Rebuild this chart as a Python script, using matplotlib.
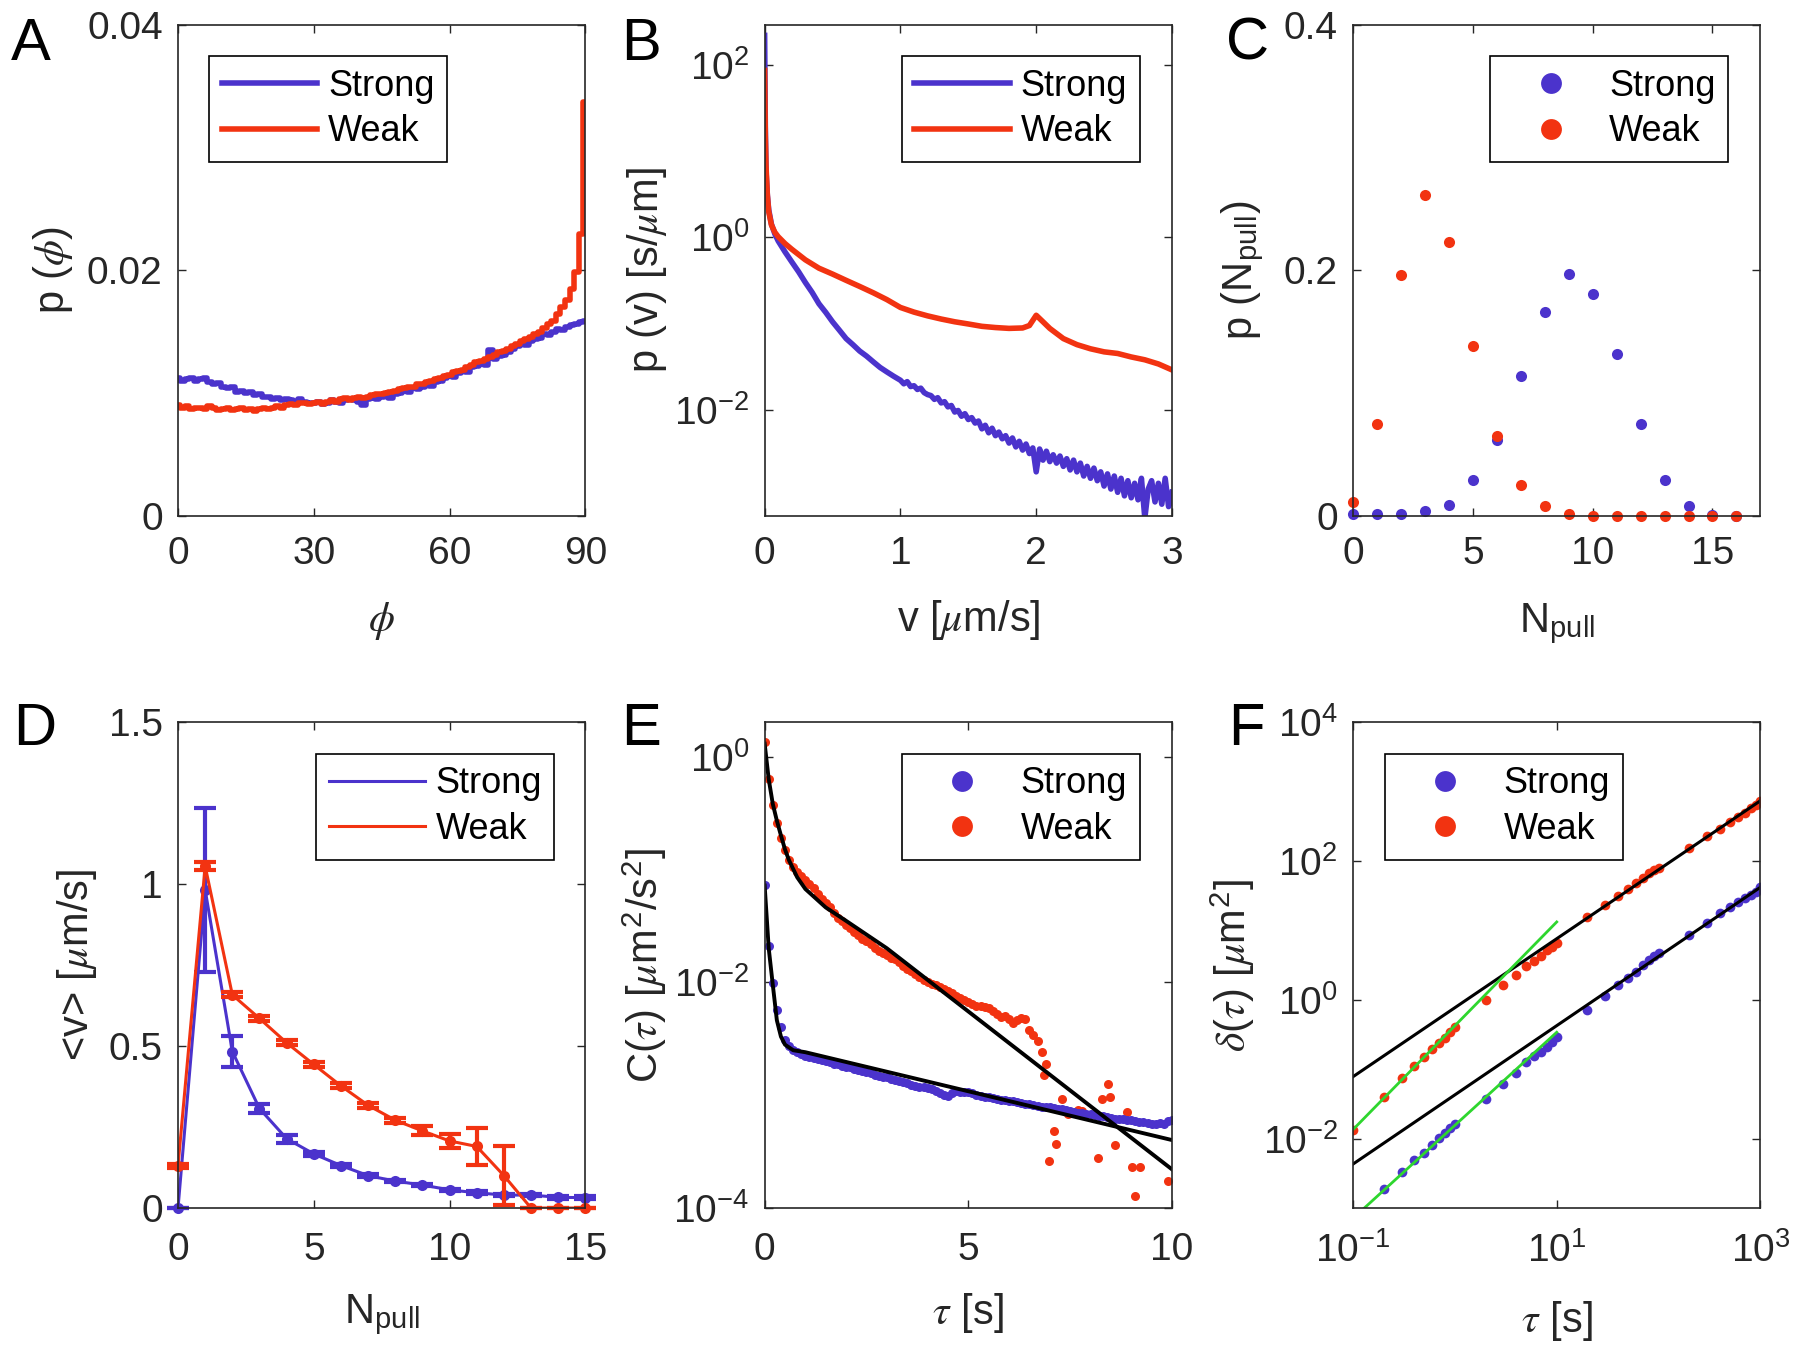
import numpy as np
import matplotlib.pyplot as plt
from matplotlib.ticker import NullLocator

plt.rcParams['font.family'] = ['Liberation Sans', 'DejaVu Sans']
plt.rcParams['mathtext.fontset'] = 'custom'
plt.rcParams['mathtext.rm'] = 'Liberation Sans'
plt.rcParams['mathtext.it'] = 'STIXGeneral:italic'
plt.rcParams['mathtext.bf'] = 'Liberation Sans:bold'
plt.rcParams['axes.unicode_minus'] = False

BLUE = '#4b33cc'
RED = '#f23311'
GREEN = '#2ed62e'
DARK = '#262626'

# ---- panel A: p(phi) ----
phi = np.arange(0, 91)
p_phi_strong = [0.0112, 0.0110, 0.0111, 0.0112, 0.0110, 0.0111, 0.0112, 0.0109, 0.0107, 0.0108,
                0.0105, 0.0104, 0.0105, 0.0101, 0.0102, 0.0100, 0.0101, 0.0098, 0.0099, 0.0097,
                0.0097, 0.0095, 0.0096, 0.0094, 0.0095, 0.0094, 0.0093, 0.0095, 0.0093, 0.0092,
                0.0092, 0.0093, 0.0091, 0.0092, 0.0094, 0.0093, 0.0092, 0.0094, 0.0095, 0.0094,
                0.0093, 0.0090, 0.0095, 0.0096, 0.0095, 0.0097, 0.0098, 0.0096, 0.0099, 0.0100,
                0.0102, 0.0101, 0.0104, 0.0103, 0.0105, 0.0107, 0.0106, 0.0109, 0.0110, 0.0112,
                0.0114, 0.0113, 0.0116, 0.0118, 0.0117, 0.0121, 0.0122, 0.0124, 0.0123, 0.0135,
                0.0128, 0.0130, 0.0131, 0.0133, 0.0136, 0.0138, 0.0140, 0.0139, 0.0142, 0.0144,
                0.0145, 0.0148, 0.0147, 0.0150, 0.0152, 0.0151, 0.0154, 0.0155, 0.0156, 0.0158,
                0.0159]
p_phi_weak = [0.0090, 0.0088, 0.0089, 0.0087, 0.0088, 0.0088, 0.0087, 0.0089, 0.0088, 0.0086,
              0.0087, 0.0088, 0.0086, 0.0087, 0.0088, 0.0086, 0.0087, 0.0085, 0.0087, 0.0088,
              0.0087, 0.0088, 0.0089, 0.0088, 0.0090, 0.0091, 0.0090, 0.0092, 0.0092, 0.0091,
              0.0092, 0.0093, 0.0091, 0.0093, 0.0094, 0.0093, 0.0095, 0.0096, 0.0094, 0.0096,
              0.0097, 0.0096, 0.0097, 0.0098, 0.0099, 0.0099, 0.0100, 0.0101, 0.0102, 0.0103,
              0.0104, 0.0105, 0.0105, 0.0107, 0.0107, 0.0109, 0.0110, 0.0111, 0.0112, 0.0114,
              0.0115, 0.0117, 0.0118, 0.0119, 0.0121, 0.0123, 0.0125, 0.0126, 0.0128, 0.0129,
              0.0131, 0.0133, 0.0134, 0.0136, 0.0138, 0.0140, 0.0142, 0.0144, 0.0146, 0.0148,
              0.0150, 0.0153, 0.0156, 0.0159, 0.0164, 0.0170, 0.0176, 0.0185, 0.0199, 0.0230,
              0.0337]

# ---- panel B: p(v) ----
v_strong = [0, 0.005, 0.01, 0.02, 0.03, 0.05, 0.075, 0.1, 0.15, 0.2, 0.25, 0.3, 0.35, 0.4,
            0.45, 0.5, 0.55, 0.6, 0.65, 0.7, 0.75, 0.8, 0.85, 0.9, 0.95] + \
           list(np.round(np.arange(1.0, 3.001, 0.025), 3))
pv_strong = [222, 20, 6, 3.1, 2.1, 1.43, 1.1, 0.91, 0.68, 0.52, 0.40, 0.30, 0.23, 0.17,
             0.135, 0.105, 0.084, 0.067, 0.057, 0.048, 0.042, 0.036, 0.031, 0.0275, 0.0245,
             0.0220, 0.0200, 0.0212, 0.0186, 0.0190, 0.0172, 0.0178, 0.0158, 0.0150, 0.0146,
             0.0132, 0.0138, 0.0120, 0.0124, 0.0108, 0.0112, 0.0094, 0.0098, 0.0084, 0.0090,
             0.0077, 0.0081, 0.0070, 0.0074, 0.0060, 0.0066, 0.0054, 0.0061, 0.0050, 0.0055,
             0.0046, 0.0050, 0.0041, 0.0047, 0.0037, 0.0043, 0.0034, 0.0040, 0.0031, 0.0036,
             0.0019, 0.0035, 0.0026, 0.0033, 0.0025, 0.0030, 0.0024, 0.0029, 0.0022, 0.0027,
             0.0020, 0.0026, 0.0019, 0.0024, 0.0017, 0.0022, 0.0016, 0.0021, 0.0015, 0.0019,
             0.0013, 0.0018, 0.0012, 0.0017, 0.0011, 0.0016, 0.0010, 0.0015, 0.00095, 0.0014,
             0.00090, 0.0016, 0.00055, 0.0012, 0.0015, 0.00085, 0.0014, 0.00080, 0.0016,
             0.00075, 0.0011]
v_weak = [0, 0.005, 0.01, 0.02, 0.03, 0.05, 0.075, 0.1, 0.15, 0.2, 0.3, 0.4, 0.5, 0.6, 0.7,
          0.8, 0.9, 1.0, 1.1, 1.2, 1.3, 1.4, 1.5, 1.6, 1.7, 1.8, 1.9, 1.95, 2.0, 2.05, 2.1,
          2.2, 2.3, 2.4, 2.5, 2.6, 2.7, 2.8, 2.9, 3.0]
pv_weak = [87, 15, 6.8, 3.1, 2.0, 1.4, 1.15, 1.02, 0.85, 0.73, 0.55, 0.44, 0.376, 0.318,
           0.27, 0.228, 0.19, 0.154, 0.136, 0.123, 0.113, 0.105, 0.099, 0.093, 0.090, 0.088,
           0.089, 0.095, 0.125, 0.105, 0.088, 0.067, 0.057, 0.051, 0.047, 0.045, 0.041,
           0.038, 0.034, 0.029]

# ---- panel C: p(N_pull) ----
n_pull = np.arange(0, 17)
pn_strong = [0.001, 0.001, 0.001, 0.0034, 0.009, 0.029, 0.062, 0.114, 0.166, 0.197, 0.181,
             0.132, 0.0746, 0.029, 0.008, 0.0007, 0.0]
pn_weak = [0.0112, 0.0746, 0.196, 0.261, 0.223, 0.138, 0.065, 0.025, 0.0075, 0.001, 0.0,
           0.0, 0.0, 0.0, 0.0, 0.0, 0.0]

# ---- panel D: <v> vs N_pull ----
n_d = np.arange(0, 16)
vm_strong = [0.0, 0.982, 0.483, 0.307, 0.214, 0.167, 0.131, 0.100, 0.083, 0.071, 0.056,
             0.047, 0.040, 0.040, 0.033, 0.032]
ve_strong = [0.0, 0.252, 0.048, 0.015, 0.012, 0.006, 0.005, 0.005, 0.004, 0.004, 0.004,
             0.004, 0.004, 0.004, 0.004, 0.004]
vm_weak = [0.131, 1.055, 0.658, 0.585, 0.510, 0.443, 0.377, 0.317, 0.271, 0.238, 0.207,
           0.190, 0.100, 0.0, 0.0, 0.0]
ve_weak = [0.006, 0.012, 0.008, 0.008, 0.008, 0.008, 0.008, 0.008, 0.008, 0.014, 0.022,
           0.057, 0.090, 0.0, 0.0, 0.0]

# ---- panel E: C(tau) ----
tau_strong = np.round(np.arange(0, 10.01, 0.1), 1)
c_strong = [0.072, 0.021, 0.0098, 0.0057, 0.0040, 0.0031, 0.0027, 0.0025, 0.00240, 0.00232,
            0.00224, 0.00218, 0.00214, 0.00210, 0.00206, 0.00200, 0.00196, 0.00190, 0.00187, 0.00182,
            0.00179, 0.00176, 0.00171, 0.00168, 0.00163, 0.00160, 0.00156, 0.00151, 0.00148, 0.00146,
            0.00144, 0.00140, 0.00137, 0.00133, 0.00130, 0.00127, 0.00124, 0.00121, 0.00119, 0.00117,
            0.00116, 0.00113, 0.00108, 0.00104, 0.00100, 0.00098, 0.00104, 0.00108, 0.00107, 0.00106,
            0.00106, 0.00104, 0.00101, 0.00099, 0.00097, 0.00096, 0.00094, 0.00092, 0.00091, 0.00090,
            0.00089, 0.00088, 0.00087, 0.00085, 0.00084, 0.00083, 0.00082, 0.00080, 0.00079, 0.00078,
            0.00078, 0.00077, 0.00076, 0.00075, 0.00074, 0.00073, 0.00071, 0.00070, 0.00069, 0.00068,
            0.00068, 0.00067, 0.00066, 0.00065, 0.00064, 0.00063, 0.00062, 0.00061, 0.00061, 0.00060,
            0.00060, 0.00059, 0.00058, 0.00058, 0.00057, 0.00056, 0.00056, 0.00057, 0.00056, 0.00059,
            0.00060]
tau_weak = list(np.round(np.arange(0, 6.95, 0.1), 1)) + \
    [6.87, 6.99, 7.1, 7.15, 7.29, 7.45, 7.7, 7.8, 8.18, 8.28, 8.42, 8.47, 8.59, 8.89,
     9.01, 9.08, 9.22, 9.91]
c_weak = [1.34, 0.63, 0.37, 0.26, 0.19, 0.150, 0.122, 0.105, 0.095, 0.087,
          0.080, 0.074, 0.068, 0.061, 0.055, 0.050, 0.046, 0.041, 0.037, 0.035,
          0.032, 0.030, 0.028, 0.026, 0.024, 0.023, 0.022, 0.020, 0.019, 0.018,
          0.0175, 0.0165, 0.016, 0.015, 0.0140, 0.0132, 0.0126, 0.0118, 0.0112, 0.0105,
          0.0100, 0.0097, 0.0094, 0.0091, 0.0087, 0.0084, 0.0080, 0.0076, 0.0072, 0.0069,
          0.0067, 0.0064, 0.0062, 0.0061, 0.0060, 0.0059, 0.0056, 0.0052, 0.0049, 0.0050,
          0.0047, 0.0044, 0.0046, 0.0048, 0.0047, 0.0038, 0.0034, 0.0030, 0.0024, 0.0019,
          0.0015, 0.00026, 0.00048, 0.00037, 0.00092, 0.00068, 0.00074, 0.00072, 0.00028,
          0.00092, 0.00126, 0.00096, 0.00036, 0.00071, 0.00023, 0.000127, 0.00023, 0.000174]
fit_t_weak = [0, 0.1, 0.2, 0.3, 0.4, 0.5, 0.6, 0.8, 1.0, 1.5, 2, 3, 10]
fit_c_weak = [1.3, 0.63, 0.38, 0.27, 0.20, 0.15, 0.12, 0.085, 0.067, 0.046, 0.035, 0.020, 2.2e-4]
fit_t_strong = [0, 0.1, 0.2, 0.3, 0.4, 0.5, 0.7, 1.0, 10]
fit_c_strong = [0.072, 0.020, 0.0095, 0.0046, 0.0033, 0.0028, 0.0025, 0.0024, 0.0004]

# ---- panel F: delta(tau) ----
tau_f = [0.1, 0.2, 0.3, 0.4, 0.5, 0.6, 0.7, 0.8, 0.9, 1, 2, 3, 4, 5, 6, 7, 8, 9, 10,
         20, 30, 40, 50, 60, 70, 80, 90, 100, 200, 300, 400, 500, 600, 700, 800, 900, 1000]
d_weak = [0.0135, 0.0396, 0.0757, 0.111, 0.151, 0.192, 0.238, 0.283, 0.341, 0.405,
          1.0, 1.65, 2.30, 3.06, 3.64, 4.2, 5.2, 5.75, 6.6,
          15.3, 23.5, 31.3, 38.8, 48.3, 57, 66, 74, 79.4,
          152, 228, 290, 360, 427, 495, 570, 640, 720]
d_strong = [0.0006, 0.00187, 0.0033, 0.00495, 0.0063, 0.0082, 0.0101, 0.0121, 0.0141, 0.0161,
            0.0369, 0.061, 0.0873, 0.125, 0.155, 0.179, 0.207, 0.245, 0.287,
            0.70, 1.15, 1.61, 2.05, 2.54, 3.15, 3.74, 4.2, 4.7,
            8.6, 12.7, 17.6, 21.8, 25.2, 29.1, 32.7, 36.1, 41.7]
fitlong_t = [0.1, 1000]
fitlong_weak = [0.078, 735]
fitlong_strong = [0.0043, 41.7]
fitshort_t = [0.1, 10]
fitshort_weak = [0.0135, 13.2]
fitshort_strong = [0.00071, 0.34]

# tick labels
ticks_a_x = [0, 30, 60, 90]
ticks_a_y = [0, 0.02, 0.04]
labels_a_y = ['0', '0.02', '0.04']
ticks_b_x = [0, 1, 2, 3]
ticks_c_x = [0, 5, 10, 15]
ticks_c_y = [0, 0.2, 0.4]
labels_c_y = ['0', '0.2', '0.4']
ticks_d_x = [0, 5, 10, 15]
ticks_d_y = [0, 0.5, 1, 1.5]
labels_d_y = ['0', '0.5', '1', '1.5']
ticks_e_x = [0, 5, 10]

TFS = 28   # tick labels
LFS = 30   # axis labels
GFS = 26   # legend
fig = plt.figure(figsize=(18, 13.59), dpi=100)
lefts = [0.0989, 0.4248, 0.7517]
W = 0.2263
axes = []
for row, (b, h) in enumerate([(0.6206, 0.361), (0.1111, 0.3576)]):
    for l in lefts:
        ax = fig.add_axes([l, b, W, h])
        for s in ax.spines.values():
            s.set_color(DARK)
            s.set_linewidth(1.2)
        ax.tick_params(direction='in', top=True, right=True, length=6, width=1,
                       colors=DARK, labelsize=TFS)
        ax.tick_params(axis='x', pad=15 if row == 0 else 17)
        ax.tick_params(axis='y', pad=11)
        axes.append(ax)
axA, axB, axC, axD, axE, axF = axes


def legend(ax, anchor, marker=False, handles=None, labels=None):
    if handles is None:
        handles, labels = ax.get_legend_handles_labels()
    leg = ax.legend(handles, labels, loc='upper right', bbox_to_anchor=anchor, fontsize=GFS,
                    frameon=True, fancybox=False, edgecolor='black', framealpha=1,
                    borderpad=0.35, labelspacing=0.3, handlelength=2.65, handletextpad=0.3,
                    borderaxespad=0, numpoints=1)
    leg.get_frame().set_linewidth(1.2)
    if marker:
        for hd in leg.legend_handles:
            hd.set_markersize(15)
    return leg


# A
axA.plot(phi, p_phi_strong, color=BLUE, lw=4, drawstyle='steps-mid', label='Strong')
axA.plot(phi, p_phi_weak, color=RED, lw=4, drawstyle='steps-mid', label='Weak')
axA.set_xlim(0, 90)
axA.set_ylim(0, 0.04)
axA.set_xticks(ticks_a_x)
axA.set_yticks(ticks_a_y, labels_a_y)
axA.set_xlabel(r'$\phi$', fontsize=LFS)
axA.set_ylabel(r'p ($\phi$)', fontsize=LFS)
legend(axA, (0.661, 0.937))

# B
axB.plot(v_strong, pv_strong, color=BLUE, lw=4, label='Strong')
axB.plot(v_weak, pv_weak, color=RED, lw=4, label='Weak')
axB.set_yscale('log')
axB.set_xlim(0, 3)
axB.set_ylim(5.9e-4, 293)
axB.set_xticks(ticks_b_x)
axB.set_yticks([1e-2, 1, 1e2])
axB.yaxis.set_minor_locator(NullLocator())
axB.set_xlabel(r'v [$\mu$m/s]', fontsize=LFS)
axB.set_ylabel(r'p (v) [s/$\mu$m]', fontsize=LFS)
legend(axB, (0.921, 0.937))

# C
axC.plot(n_pull, pn_strong, 'o', color=BLUE, ms=8, mew=0, clip_on=False, label='Strong')
axC.plot(n_pull, pn_weak, 'o', color=RED, ms=8, mew=0, clip_on=False, label='Weak')
axC.set_xlim(0, 17)
axC.set_ylim(0, 0.4)
axC.set_xticks(ticks_c_x)
axC.set_yticks(ticks_c_y, labels_c_y)
axC.set_xlabel(r'N$_{\mathrm{pull}}$', fontsize=LFS)
axC.set_ylabel(r'p (N$_{\mathrm{pull}}$)', fontsize=LFS)
legend(axC, (0.921, 0.937), marker=True)

# D
for vm, ve, col, lab in [(vm_strong, ve_strong, BLUE, 'Strong'), (vm_weak, ve_weak, RED, 'Weak')]:
    axD.plot(n_d, vm, '-', color=col, lw=2.2, label=lab)
    axD.errorbar(n_d, vm, yerr=ve, fmt='none', ecolor=col, elinewidth=3, capsize=8,
                 capthick=3, clip_on=False)
    axD.plot(n_d, vm, 'o', color=col, ms=8, mew=0, clip_on=False)
axD.set_xlim(0, 15)
axD.set_ylim(0, 1.5)
axD.set_xticks(ticks_d_x)
axD.set_yticks(ticks_d_y, labels_d_y)
axD.set_xlabel(r'N$_{\mathrm{pull}}$', fontsize=LFS)
axD.set_ylabel(r'<v> [$\mu$m/s]', fontsize=LFS)
legend(axD, (0.924, 0.935))

# E
axE.plot(tau_weak, c_weak, 'o', color=RED, ms=6.5, mew=0)
axE.plot(tau_strong, c_strong, 'o', color=BLUE, ms=6.5, mew=0)
axE.plot(fit_t_weak, fit_c_weak, '-', color='black', lw=2.8)
axE.plot(fit_t_strong, fit_c_strong, '-', color='black', lw=2.8)
axE.plot([], [], 'o', color=BLUE, mew=0, label='Strong')
axE.plot([], [], 'o', color=RED, mew=0, label='Weak')
axE.set_yscale('log')
axE.set_xlim(0, 10)
axE.set_ylim(1e-4, 2.02)
axE.set_xticks(ticks_e_x)
axE.set_yticks([1e-4, 1e-2, 1])
axE.yaxis.set_minor_locator(NullLocator())
axE.set_xlabel(r'$\tau$ [s]', fontsize=LFS)
axE.set_ylabel(r'C($\tau$) [$\mu$m$^{\mathrm{2}}$/s$^{\mathrm{2}}$]', fontsize=LFS)
legend(axE, (0.921, 0.935), marker=True)

# F
axF.plot(tau_f, d_weak, 'o', color=RED, ms=7, mew=0, label='Weak')
axF.plot(tau_f, d_strong, 'o', color=BLUE, ms=7, mew=0, label='Strong')
axF.plot(fitlong_t, fitlong_weak, '-', color='black', lw=2.2)
axF.plot(fitlong_t, fitlong_strong, '-', color='black', lw=2.2)
axF.plot(fitshort_t, fitshort_weak, '-', color=GREEN, lw=2)
axF.plot(fitshort_t, fitshort_strong, '-', color=GREEN, lw=2)
axF.set_xscale('log')
axF.set_yscale('log')
axF.set_xlim(0.1, 1000)
axF.set_ylim(1e-3, 1e4)
axF.set_xticks([0.1, 10, 1000])
axF.set_yticks([1e-2, 1, 1e2, 1e4])
axF.xaxis.set_minor_locator(NullLocator())
axF.yaxis.set_minor_locator(NullLocator())
axF.set_xlabel(r'$\tau$ [s]', fontsize=LFS)
axF.set_ylabel(r'$\delta$($\tau$) [$\mu$m$^{\mathrm{2}}$]', fontsize=LFS)
hs, ls = axF.get_legend_handles_labels()
legend(axF, (0.662, 0.935), marker=True, handles=hs[::-1], labels=ls[::-1])

# label positions
xlab_y = [-0.172, -0.167, -0.175, -0.175, -0.170, -0.187]
ylab_x = [-0.252, -0.235, -0.214, -0.195, -0.235, -0.235]
for ax, xy, yx in zip(axes, xlab_y, ylab_x):
    ax.xaxis.set_label_coords(0.5, xy)
    ax.yaxis.set_label_coords(yx, 0.5)
    ax.xaxis.label.set_color(DARK)
    ax.yaxis.label.set_color(DARK)

# panel letters (baseline positions in pixels)
letters = ['A', 'B', 'C', 'D', 'E', 'F']
letter_xy = [(11, 60), (621, 60), (1226, 60), (13, 745), (621, 745), (1228, 745)]
for let, (px, py) in zip(letters, letter_xy):
    fig.text(px / 1800, 1 - py / 1359, let, fontsize=43, ha='left', va='baseline',
             color='black')

fig.savefig('out.png', dpi=100)
